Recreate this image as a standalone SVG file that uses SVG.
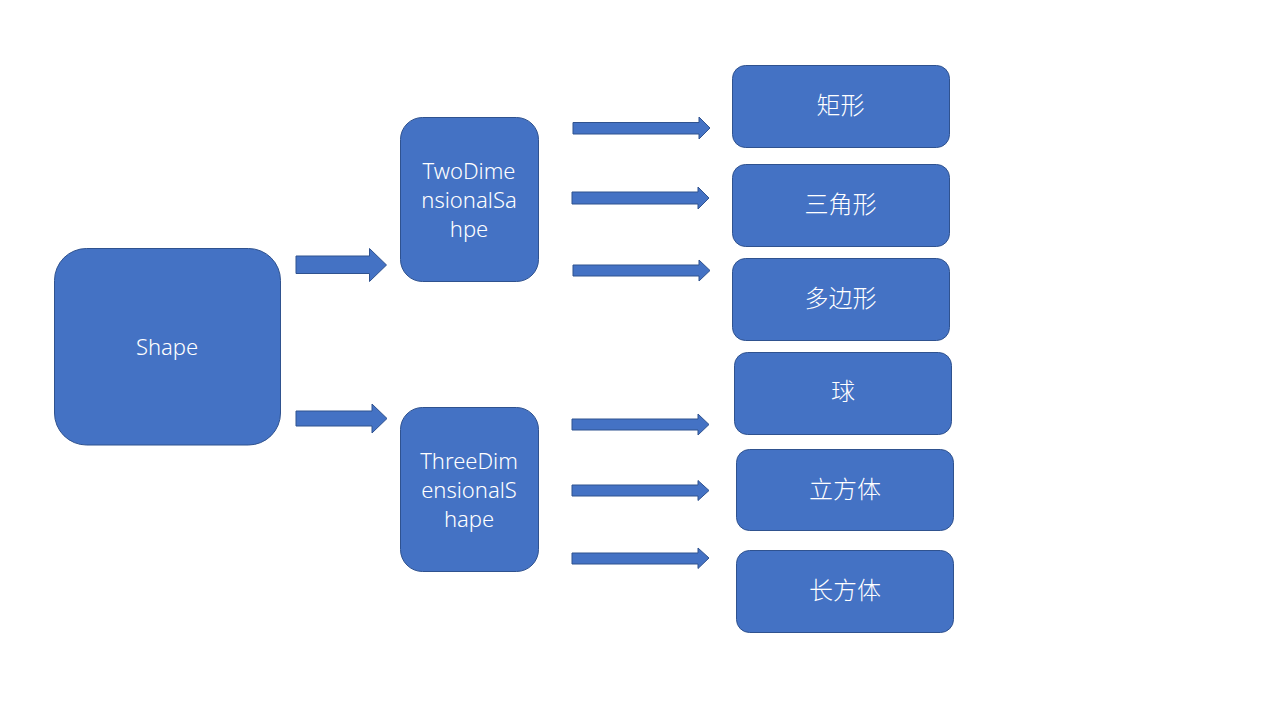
<svg xmlns="http://www.w3.org/2000/svg" width="1280" height="720" viewBox="0 0 1280 720">
<style>
.box{fill:#4472C4;stroke:#2F528F;stroke-width:1}
.arr{fill:#4472C4;stroke:#2F528F;stroke-width:1}
.t{fill:#FFFFFF;font-family:"Noto Sans","Noto Sans CJK SC",sans-serif;font-size:22px;font-weight:300;text-anchor:middle}
.c{fill:#FFFFFF;font-family:"Noto Sans CJK SC","Noto Sans",sans-serif;font-size:24px;font-weight:300;text-anchor:middle}
</style>
<rect width="1280" height="720" fill="#FFFFFF"/>
<g id="connectors">
<polygon class="arr" points="296,256 369.5,256 369.5,248.5 386.5,265 369.5,281.5 369.5,273.5 296,273.5"/>
<polygon class="arr" points="296,411 372,411 372,404 387,418.5 372,433 372,426 296,426"/>
<polygon class="arr" points="573,122.5 699,122.5 699,117 710,128 699,139 699,134 573,134"/>
<polygon class="arr" points="572,192 698,192 698,187 709,198 698,209 698,204 572,204"/>
<polygon class="arr" points="573,265 699,265 699,260 710,270.5 699,281 699,276 573,276"/>
<polygon class="arr" points="572,419 698,419 698,414 709,424.5 698,435 698,430 572,430"/>
<polygon class="arr" points="572,485 698,485 698,480.5 709,490.5 698,500.5 698,496 572,496"/>
<polygon class="arr" points="572,553 698,553 698,548 709,558 698,568.5 698,564 572,564"/>
</g>
<g id="shape">
<rect class="box" x="54.5" y="248.5" width="226" height="196.5" rx="32"/>
<text class="t" x="167" y="355">Shape</text>
</g>
<g id="two">
<rect class="box" x="400.5" y="117.5" width="138" height="164" rx="22"/>
<text class="t" x="469" y="179">TwoDime</text>
<text class="t" x="469" y="208">nsionalSa</text>
<text class="t" x="469" y="237">hpe</text>
</g>
<g id="three">
<rect class="box" x="400.5" y="407.5" width="138" height="164" rx="22"/>
<text class="t" x="469" y="469">ThreeDim</text>
<text class="t" x="469" y="498">ensionalS</text>
<text class="t" x="469" y="527">hape</text>
</g>
<g id="rect">
<rect class="box" x="732.5" y="65.5" width="217" height="82" rx="13"/>
<text class="c" x="840.5" y="114">矩形</text>
</g>
<g id="tri">
<rect class="box" x="732.5" y="164.5" width="217" height="82" rx="13"/>
<text class="c" x="840.5" y="213">三角形</text>
</g>
<g id="poly">
<rect class="box" x="732.5" y="258.5" width="217" height="82" rx="13"/>
<text class="c" x="840.5" y="307">多边形</text>
</g>
<g id="ball">
<rect class="box" x="734.5" y="352.5" width="217" height="82" rx="13"/>
<text class="c" x="843" y="400">球</text>
</g>
<g id="cube">
<rect class="box" x="736.5" y="449.5" width="217" height="81" rx="13"/>
<text class="c" x="845" y="498">立方体</text>
</g>
<g id="cuboid">
<rect class="box" x="736.5" y="550.5" width="217" height="82" rx="13"/>
<text class="c" x="845" y="599">长方体</text>
</g>
</svg>
